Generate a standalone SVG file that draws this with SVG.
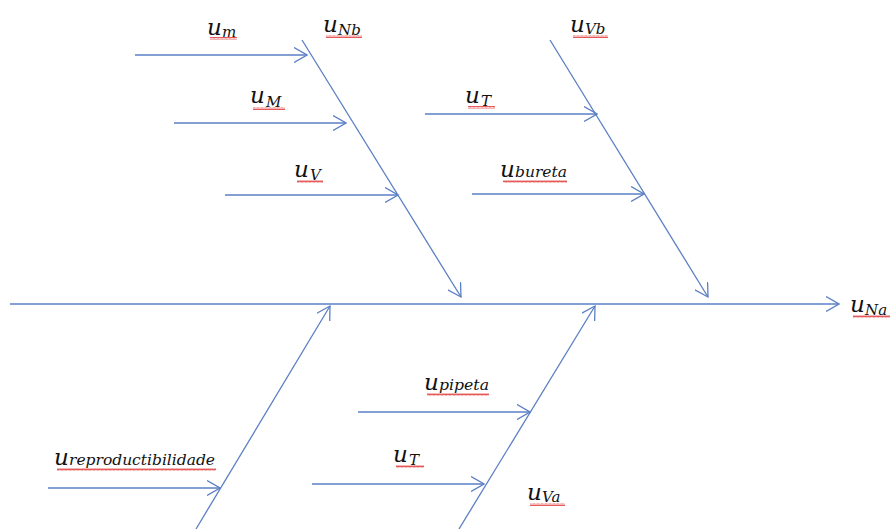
<svg xmlns="http://www.w3.org/2000/svg" width="892" height="529" viewBox="0 0 892 529">
<defs>
<marker id="ah" viewBox="0 0 14 16" refX="13" refY="8" markerWidth="14" markerHeight="16" markerUnits="userSpaceOnUse" orient="auto">
<path d="M0,0.5 L13,8 L0,15.5" fill="none" stroke="#5b7fc4" stroke-width="1.3"/>
</marker>
<pattern id="wave" x="0" y="0" width="4" height="3" patternUnits="userSpaceOnUse">
<path d="M0,2.5 L1,0.5 L2,2.5 L3,0.5 L4,2.5" fill="none" stroke="#e03030" stroke-width="0.8"/>
</pattern>
<style>
.ln{stroke:#5b7fc4;stroke-width:1.3;fill:none;marker-end:url(#ah)}
text{font-family:'DejaVu Serif','Liberation Serif',serif;font-style:italic;fill:#111}
.u{font-size:23px}
.s{font-size:15px}
.w{fill:url(#wave)}
</style>
</defs>
<rect width="892" height="529" fill="#fff"/>
<g id="connectors">
<line class="ln" x1="10" y1="304" x2="839" y2="304"/>
<line class="ln" x1="302" y1="40" x2="461" y2="297"/>
<line class="ln" x1="550" y1="40" x2="708" y2="297"/>
<line class="ln" x1="196" y1="529" x2="330" y2="306"/>
<line class="ln" x1="459" y1="529" x2="595" y2="306"/>
<line class="ln" x1="135" y1="55" x2="307" y2="55"/>
<line class="ln" x1="174" y1="123" x2="346" y2="123"/>
<line class="ln" x1="225" y1="195" x2="398" y2="195"/>
<line class="ln" x1="425" y1="114" x2="597" y2="114"/>
<line class="ln" x1="472" y1="194" x2="644" y2="194"/>
<line class="ln" x1="358" y1="412" x2="530" y2="412"/>
<line class="ln" x1="312" y1="484" x2="484" y2="484"/>
<line class="ln" x1="48" y1="488" x2="220" y2="488"/>
</g>
<g id="node-um"><rect class="w" x="210" y="37" width="27" height="3"/><text class="u" x="207" y="35">u</text><text class="s" x="222" y="37">m</text></g>
<g id="node-uNb"><rect class="w" x="326" y="35" width="36" height="3"/><text class="u" x="323" y="32">u</text><text class="s" x="338" y="35">Nb</text></g>
<g id="node-uM"><rect class="w" x="253" y="107" width="32" height="3"/><text class="u" x="250" y="103">u</text><text class="s" x="266" y="107">M</text></g>
<g id="node-uV"><rect class="w" x="297" y="180" width="26" height="3"/><text class="u" x="294" y="177">u</text><text class="s" x="310" y="180">V</text></g>
<g id="node-uVb"><rect class="w" x="573" y="35" width="35" height="3"/><text class="u" x="570" y="32">u</text><text class="s" x="585" y="34">Vb</text></g>
<g id="node-uT1"><rect class="w" x="468" y="106" width="27" height="3"/><text class="u" x="465" y="103">u</text><text class="s" x="481" y="106">T</text></g>
<g id="node-ubureta"><rect class="w" x="503" y="180" width="64" height="3"/><text class="u" x="500" y="177">u</text><text class="s" x="515" y="177" textLength="52" lengthAdjust="spacingAndGlyphs">bureta</text></g>
<g id="node-uNa"><rect class="w" x="853" y="315" width="37" height="3"/><text class="u" x="850" y="312">u</text><text class="s" x="865" y="315">Na</text></g>
<g id="node-upipeta"><rect class="w" x="427" y="393" width="62" height="3"/><text class="u" x="424" y="390">u</text><text class="s" x="439" y="390" textLength="50" lengthAdjust="spacingAndGlyphs">pipeta</text></g>
<g id="node-uT2"><rect class="w" x="396" y="465" width="28" height="3"/><text class="u" x="393" y="462">u</text><text class="s" x="409" y="465">T</text></g>
<g id="node-urepro"><rect class="w" x="57" y="468" width="159" height="3"/><text class="u" x="54" y="465">u</text><text class="s" x="69" y="465" textLength="146" lengthAdjust="spacingAndGlyphs">reproductibilidade</text></g>
<g id="node-uVa"><rect class="w" x="530" y="503" width="35" height="3"/><text class="u" x="527" y="500">u</text><text class="s" x="542" y="502">Va</text></g>
</svg>
